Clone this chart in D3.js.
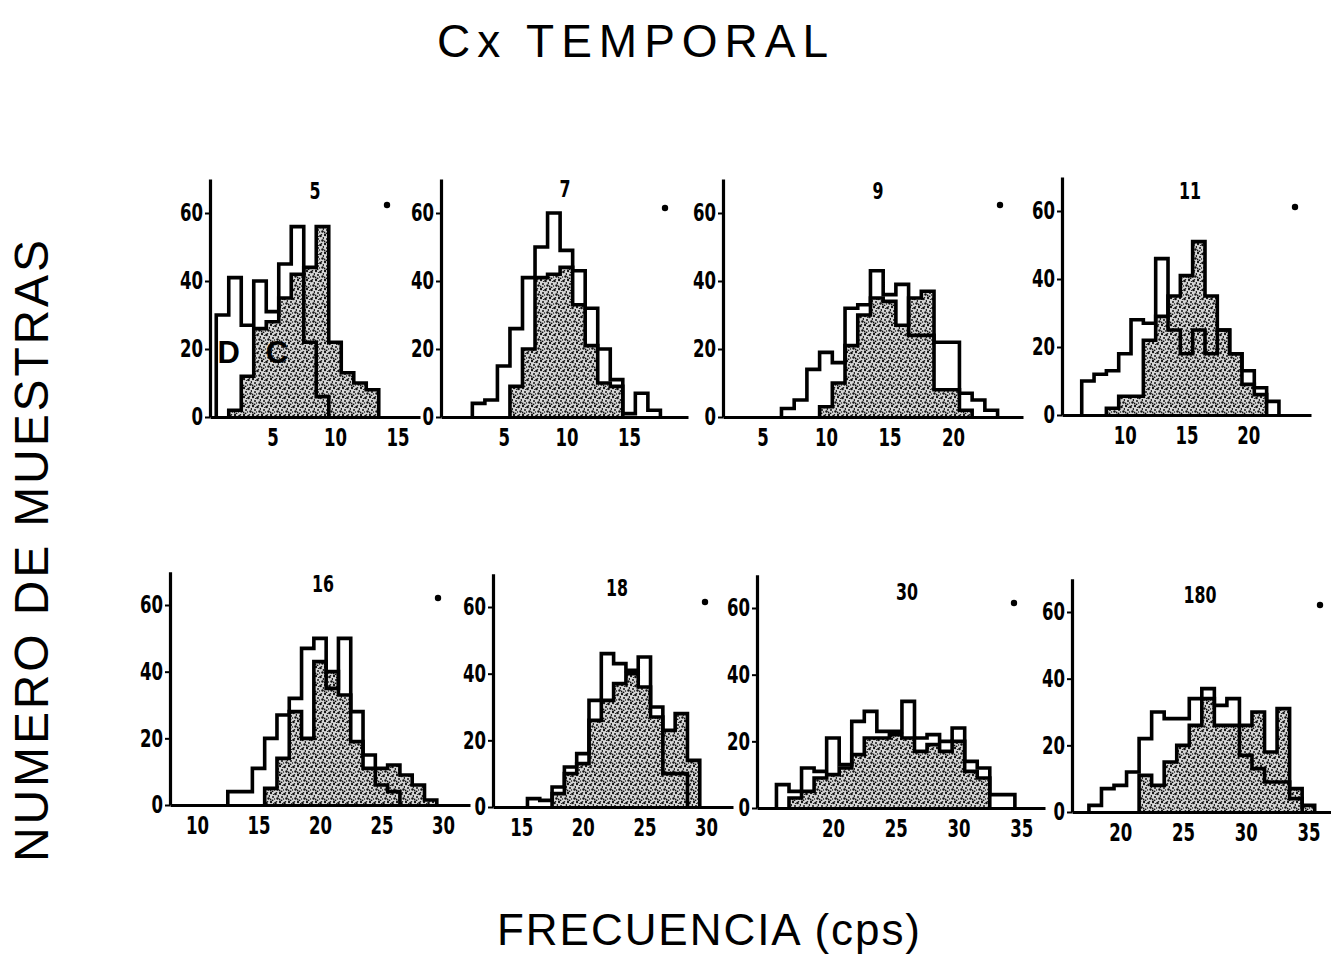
<!DOCTYPE html>
<html>
<head>
<meta charset="utf-8">
<script src="https://cdn.jsdelivr.net/npm/d3@7/dist/d3.min.js"></script>
<style>
  body { margin: 0; background: #fff; }
  svg { display: block; }
  .num { font-family: "Liberation Sans Narrow", "DejaVu Sans Condensed", "DejaVu Sans", sans-serif; font-weight: bold; fill: #000; }
  .big { font-family: "Liberation Sans", "DejaVu Sans", sans-serif; fill: #000; }
</style>
</head>
<body>
<div id="chart-area"></div>
<script>
/*
*    Cx temporal - histogramas D / C
*/

var width = 1331;
var height = 960;

// data (bins 1 cps wide)
var panelLabels = ["5", "7", "9", "11", "16", "18", "30", "180"];

var dStart = [0.5, 2.5, 6.5, 6.5, 12.5, 15.5, 15.5, 17.5];
var dCounts = [
  [30, 41, 27, 40, 31, 45, 56, 22, 6],
  [4, 5, 15, 26, 41, 50, 60, 49, 43, 32, 20, 11, 1, 7, 2],
  [2.5, 5, 14, 19, 16, 32, 33, 43, 36, 39, 24, 24, 22, 22, 7, 5, 2],
  [10, 12, 13, 18, 28, 27, 46, 25, 18, 25, 18, 25, 18, 13, 8, 4],
  [4, 4, 11, 20, 27, 32, 47, 50, 35, 50, 28, 15, 6, 4],
  [2.5, 2, 6, 12, 16, 32, 46, 43, 41, 45, 30, 10, 10],
  [7, 5, 12, 11, 21, 13, 26, 29, 23, 23, 32, 21, 22, 20, 24, 14, 12, 4, 4],
  [2, 7, 8, 12, 22, 30, 28, 28, 34, 37, 32, 34, 17, 13, 9, 9, 4]
];

var cStart = [1.5, 5.5, 9.5, 8.5, 15.5, 17.5, 16.5, 21.5];
var cCounts = [
  [2, 12, 26, 28, 35, 42, 44, 56, 22, 13, 10, 8],
  [9, 20, 41, 42, 44, 33, 21, 10, 9],
  [3, 10, 21, 30, 35, 34, 27, 35, 37, 8, 8, 2],
  [2, 5.5, 5.5, 22, 29, 35, 41, 51, 35, 25, 18, 9, 6],
  [5, 14, 28, 20, 43, 40, 33, 19, 11, 11, 12, 9, 6, 1.5],
  [4, 10, 13, 26, 32, 37, 40, 36, 27, 23, 28, 14],
  [3, 5, 9, 10, 12, 16, 21, 21, 22, 21, 17, 19, 17, 20, 11, 9],
  [11, 8, 15, 20, 26, 34, 26, 26, 26, 30, 18, 31, 7, 2]
];

var xTicks = [
  [5, 10, 15], [5, 10, 15], [5, 10, 15, 20], [10, 15, 20],
  [10, 15, 20, 25, 30], [15, 20, 25, 30], [20, 25, 30, 35], [20, 25, 30, 35]
];
var yTicks = [0, 20, 40, 60];

// panel placement on the page
var layout = [
  {x0: 210, x1: 420, lo: 0, hi: 16.8, y0: 417, k: 204, tx: 315, ty: 199, dx: 387, dy: 205},
  {x0: 441, x1: 688, lo: 0, hi: 19.7, y0: 417, k: 204, tx: 565, ty: 197, dx: 665, dy: 208},
  {x0: 723, x1: 1023, lo: 1.9, hi: 25.5, y0: 417, k: 204, tx: 878, ty: 199, dx: 1000, dy: 205},
  {x0: 1062, x1: 1311, lo: 4.9, hi: 25.1, y0: 415, k: 204, tx: 1190, ty: 199, dx: 1295, dy: 207},
  {x0: 170, x1: 470, lo: 7.8, hi: 32.2, y0: 805, k: 200, tx: 323, ty: 592, dx: 438, dy: 598},
  {x0: 493, x1: 733, lo: 12.7, hi: 32.2, y0: 807, k: 200, tx: 617, ty: 596, dx: 705, dy: 602},
  {x0: 757, x1: 1045, lo: 13.95, hi: 36.9, y0: 808, k: 200, tx: 907, ty: 600, dx: 1014, dy: 603},
  {x0: 1072, x1: 1331, lo: 16.15, hi: 36.8, y0: 812, k: 200, tx: 1200, ty: 603, dx: 1320, dy: 605}
];

var svg = d3.select("#chart-area").append("svg")
  .attr("width", width)
  .attr("height", height)

// stipple for the C histograms
var defs = svg.append("defs")
var pat = defs.append("pattern")
  .attr("id", "stip")
  .attr("width", 9)
  .attr("height", 9)
  .attr("patternUnits", "userSpaceOnUse")
pat.append("rect").attr("width", 9).attr("height", 9).attr("fill", "#d6d6d6")
var specks = [[1, 1, 1.2], [5.5, 2, 1.3], [3, 5, 1], [7.5, 6.5, 1.2], [0.5, 7.5, 0.9], [6.5, 0.2, 0.8], [2.5, 8.5, 0.9], [8.5, 4, 0.9], [4.5, 7, 0.7], [3.5, 2.5, 0.6]]
specks.forEach(s => {
  pat.append("circle").attr("cx", s[0]).attr("cy", s[1]).attr("r", s[2]).attr("fill", "#111")
})

// titles
svg.append("text")
  .attr("class", "big")
  .attr("x", 437)
  .attr("y", 57)
  .attr("font-size", "46px")
  .attr("textLength", 391)
  .attr("lengthAdjust", "spacing")
  .text("Cx  TEMPORAL")

svg.append("text")
  .attr("class", "big")
  .attr("transform", "translate(48, 862) rotate(-90)")
  .attr("font-size", "48px")
  .attr("textLength", 622)
  .attr("lengthAdjust", "spacing")
  .text("NUMERO  DE  MUESTRAS")

svg.append("text")
  .attr("class", "big")
  .attr("x", 497)
  .attr("y", 945)
  .attr("font-size", "44px")
  .attr("textLength", 423)
  .attr("lengthAdjust", "spacing")
  .text("FRECUENCIA (cps)")

const steps = (start, counts) => {
  var pts = counts.map((c, i) => ({v: start + i, n: c}))
  pts.push({v: start + counts.length, n: 0})
  return pts
}

// squeeze the bold digits like the narrow lettering of the original
const narrow = (sel, w) => {
  sel.each(function () {
    var t = d3.select(this)
    t.attr("textLength", t.text().length * w).attr("lengthAdjust", "spacingAndGlyphs")
  })
}

layout.forEach((p, i) => {
  var g = svg.append("g")

  var x = d3.scaleLinear()
    .domain([p.lo, p.hi])
    .range([p.x0, p.x1])

  var y = d3.scaleLinear()
    .domain([0, 60])
    .range([p.y0, p.y0 - p.k])

  var area = d3.area()
    .curve(d3.curveStepAfter)
    .x(d => x(d.v))
    .y0(y(0))
    .y1(d => y(d.n))

  var line = d3.line()
    .curve(d3.curveStepAfter)
    .x(d => x(d.v))
    .y(d => y(d.n))

  // C : stippled
  var cPts = steps(cStart[i], cCounts[i])
  g.append("path")
    .attr("d", area(cPts))
    .attr("fill", "url(#stip)")
  g.append("path")
    .attr("d", line([{v: cStart[i], n: 0}].concat(cPts)))
    .attr("fill", "none")
    .attr("stroke", "#000")
    .attr("stroke-width", 3.6)
    .attr("stroke-linejoin", "miter")

  // D : open outline
  var dPts = steps(dStart[i], dCounts[i])
  g.append("path")
    .attr("d", line([{v: dStart[i], n: 0}].concat(dPts)))
    .attr("fill", "none")
    .attr("stroke", "#000")
    .attr("stroke-width", 3.6)
    .attr("stroke-linejoin", "miter")

  // axes
  var xAxis = g.append("g")
    .attr("class", "num")
    .attr("transform", "translate(0, " + p.y0 + ")")
    .call(d3.axisBottom(x).tickValues(xTicks[i]).tickSize(0).tickSizeOuter(0).tickPadding(11))
  xAxis.select(".domain").attr("stroke-width", 3.2)
  xAxis.selectAll("text").attr("font-size", "25px").attr("font-family", null).call(narrow, 11.5)

  var yAxis = g.append("g")
    .attr("class", "num")
    .attr("transform", "translate(" + p.x0 + ", 0)")
    .call(d3.axisLeft(y.copy().domain([0, 70]).range([p.y0, p.y0 - p.k * 70 / 60]))
      .tickValues(yTicks).tickSize(5).tickSizeOuter(0).tickPadding(2))
  yAxis.select(".domain").attr("stroke-width", 3.2)
  yAxis.selectAll(".tick line").attr("stroke-width", 2)
  yAxis.selectAll("text").attr("font-size", "24px").attr("font-family", null).call(narrow, 11.5)

  // panel label and mark
  g.append("text")
    .attr("class", "num")
    .attr("x", p.tx)
    .attr("y", p.ty)
    .attr("text-anchor", "middle")
    .attr("font-size", "23px")
    .text(panelLabels[i])
    .call(narrow, 11)

  g.append("circle")
    .attr("cx", p.dx)
    .attr("cy", p.dy)
    .attr("r", 3.2)
    .attr("fill", "#000")

  if (i == 0) {
    g.append("text")
      .attr("class", "big")
      .attr("x", x(1.5))
      .attr("y", y(16))
      .attr("text-anchor", "middle")
      .attr("font-size", "31px")
      .attr("font-weight", "bold")
      .text("D")
    g.append("text")
      .attr("class", "big")
      .attr("x", x(5.35))
      .attr("y", y(16))
      .attr("text-anchor", "middle")
      .attr("font-size", "31px")
      .attr("font-weight", "bold")
      .text("C")
  }
})
</script>
</body>
</html>
